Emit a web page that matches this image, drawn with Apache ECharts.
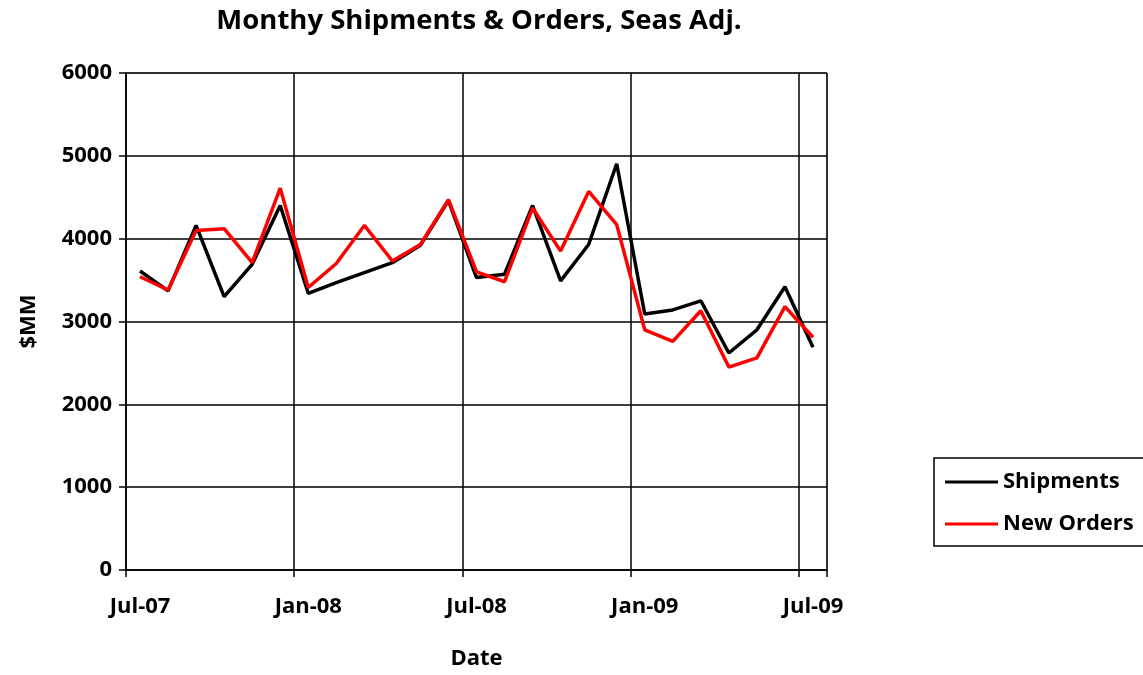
<!DOCTYPE html>
<html>
<head>
<meta charset="utf-8">
<script src="https://cdn.jsdelivr.net/npm/echarts@6/dist/echarts.min.js"></script>
<style>
  html, body { margin: 0; padding: 0; background: #fff; }
  #chart { width: 1143px; height: 675px; }
</style>
</head>
<body>
<div id="chart"></div>
<script>
// months Jul-07 .. Jul-09 (one point per month, drawn mid-month)
const months = [
  'Jul-07', 'Aug-07', 'Sep-07', 'Oct-07', 'Nov-07', 'Dec-07',
  'Jan-08', 'Feb-08', 'Mar-08', 'Apr-08', 'May-08', 'Jun-08',
  'Jul-08', 'Aug-08', 'Sep-08', 'Oct-08', 'Nov-08', 'Dec-08',
  'Jan-09', 'Feb-09', 'Mar-09', 'Apr-09', 'May-09', 'Jun-09',
  'Jul-09'
]
const shipments = [
  3610, 3370, 4160, 3300, 3690, 4400,
  3340, 3470, 3590, 3710, 3920, 4460,
  3530, 3570, 4400, 3490, 3930, 4905,
  3090, 3140, 3250, 2620, 2900, 3420,
  2690
]
const newOrders = [
  3540, 3380, 4100, 4120, 3710, 4610,
  3410, 3700, 4160, 3730, 3930, 4470,
  3600, 3480, 4370, 3850, 4570, 4170,
  2900, 2760, 3130, 2450, 2560, 3180,
  2810
]
const yTicks = [0, 1000, 2000, 3000, 4000, 5000, 6000]

const font = '"Open Sans", "Liberation Sans", sans-serif'

const myChart = echarts.init(document.getElementById('chart'))

const options = {
  animation: false,
  backgroundColor: '#fff',
  title: {
    text: 'Monthy Shipments & Orders, Seas Adj.',
    left: 474,
    textAlign: 'center',
    top: 2,
    textStyle: { fontFamily: font, fontSize: 27.5, fontWeight: 'bold', color: '#000' }
  },
  legend: {
    orient: 'vertical',
    left: 934,
    top: 458,
    padding: [9, 14, 7, 11],
    itemGap: 12,
    itemWidth: 53,
    itemHeight: 3,
    icon: 'rect',
    borderColor: '#000',
    borderWidth: 1.5,
    textStyle: { fontFamily: font, fontSize: 22, fontWeight: 'bold', color: '#000', lineHeight: 30 },
    data: ['Shipments', 'New Orders']
  },
  grid: {
    left: 126,
    right: 316,
    top: 73,
    bottom: 103,
    show: true,
    borderColor: '#808080',
    borderWidth: 1
  },
  xAxis: {
    type: 'category',
    data: months,
    boundaryGap: true,
    name: 'Date',
    nameLocation: 'middle',
    nameGap: 78,
    nameTextStyle: { fontFamily: font, fontSize: 22, fontWeight: 'bold', color: '#000' },
    axisLine: { show: true, lineStyle: { color: '#000', width: 1.5 } },
    axisTick: { show: true, interval: 5, length: 7, lineStyle: { color: '#000', width: 1.5 } },
    axisLabel: { interval: 5, fontFamily: font, fontSize: 22, fontWeight: 'bold', color: '#000', margin: 26 },
    splitLine: { show: true, interval: 5, lineStyle: { color: '#000', width: 1.5 } }
  },
  yAxis: {
    type: 'value',
    min: yTicks[0],
    max: yTicks[yTicks.length - 1],
    interval: 1000,
    name: '$MM',
    nameLocation: 'middle',
    nameGap: 86,
    nameTextStyle: { fontFamily: font, fontSize: 22, fontWeight: 'bold', color: '#000' },
    axisLine: { show: true, lineStyle: { color: '#000', width: 1.5 } },
    axisTick: { show: true, length: 7, lineStyle: { color: '#000', width: 1.5 } },
    axisLabel: {
      fontFamily: font, fontSize: 22, fontWeight: 'bold', color: '#000', margin: 14,
      formatter: (v) => String(v)
    },
    splitLine: { show: true, lineStyle: { color: '#000', width: 1.5 } }
  },
  series: [
    {
      name: 'Shipments',
      type: 'line',
      data: shipments,
      symbol: 'none',
      color: '#000',
      lineStyle: { color: '#000', width: 3.5 }
    },
    {
      name: 'New Orders',
      type: 'line',
      data: newOrders,
      symbol: 'none',
      color: '#ff0000',
      lineStyle: { color: '#ff0000', width: 3.5 }
    }
  ]
}

myChart.setOption(options)
</script>
</body>
</html>
